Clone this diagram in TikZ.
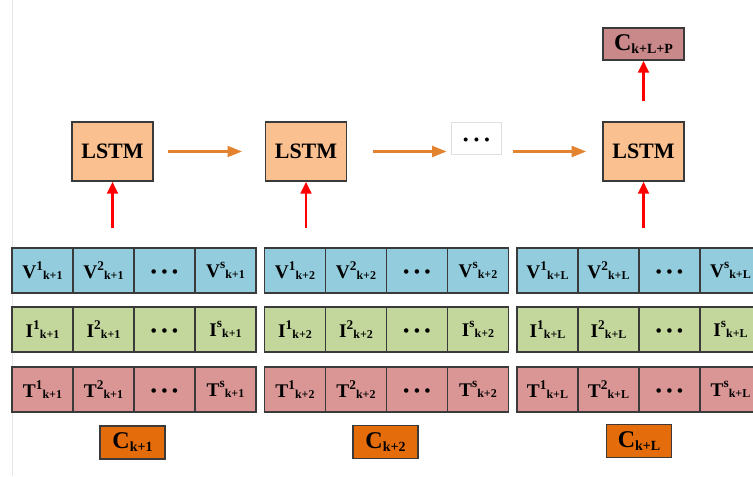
\documentclass[tikz,border=0pt]{standalone}
\usepackage{fontspec}
\setmainfont{Liberation Serif}
\usepackage{tikz}
\usetikzlibrary{arrows.meta,positioning}
\definecolor{vblue}{HTML}{93CDDD}
\definecolor{igreen}{HTML}{C3D69B}
\definecolor{tred}{HTML}{D99694}
\definecolor{lstmfill}{HTML}{FAC090}
\definecolor{cfill}{HTML}{E46C0A}
\definecolor{outfill}{HTML}{C9898A}
\definecolor{flow}{HTML}{E4832F}
\definecolor{edge}{HTML}{3A3A3A}
\newcommand{\sym}[3]{{\fontsize{14.5}{14.5}\selectfont #1}{\fontsize{10}{10}\selectfont\raisebox{6.5pt}{#2}}{\fontsize{9}{9}\selectfont\raisebox{-0.75pt}{#3}}}
\newcommand{\csym}[1]{{\fontsize{18}{18}\selectfont C}{\fontsize{10.5}{10.5}\selectfont\raisebox{-2.25pt}{#1}}}
\newcommand{\dotsym}{\vphantom{V\textsuperscript{1}}{\fontsize{12.5}{12.5}\selectfont\raisebox{-2.4pt}{\textbullet\hspace{3.6pt}\textbullet\hspace{3.6pt}\textbullet}}}
\tikzstyle{cell} = [rectangle, draw=edge, line width=1pt, minimum width=45.75pt, minimum height=33.75pt, inner sep=0pt, outer sep=0pt, font=\bfseries]
\tikzstyle{lstm} = [rectangle, draw=edge, line width=1pt, fill=lstmfill, minimum width=60.75pt, minimum height=44.25pt, inner sep=0pt, font=\bfseries\fontsize{16.5}{16.5}\selectfont]
\tikzstyle{cbox} = [rectangle, draw=edge, line width=1pt, fill=cfill, minimum width=48.75pt, minimum height=24.75pt, inner sep=0pt, font=\bfseries]
\tikzstyle{up} = [draw=red, line width=2.2pt, -{Triangle[length=9pt,width=8pt]}]
\tikzstyle{flowarrow} = [draw=flow, line width=2.2pt, -{Triangle[length=11pt,width=8pt]}]

\begin{document}
\begin{tikzpicture}[x=0.75pt, y=-0.75pt]
	\useasboundingbox (0,0) rectangle (753,476);
	\clip (0,0) rectangle (753,476);
	\draw[gray!20, line width=0.75pt] (12,0) -- (12,476);
	% input grids
	\foreach \g/\x/\s in {1/12/k+1, 2/264.5/k+2, 3/517/k+L} {
		\foreach \r/\y/\c in {V/270.5/vblue, I/329.5/igreen, T/389.5/tred} {
			\node[cell, fill=\c] (\r\g-1) at (\x+30.5,\y) {\sym{\r}{1}{\s}};
			\node[cell, fill=\c, right=0pt of \r\g-1] (\r\g-2) {\sym{\r}{2}{\s}};
			\node[cell, fill=\c, right=0pt of \r\g-2] (\r\g-3) {\dotsym};
			\node[cell, fill=\c, right=0pt of \r\g-3] (\r\g-4) {\sym{\r}{s}{\s}};
		}
	}
	\node[cbox] (c1) at (132.5,442.5) {\csym{k+1}};
	\node[cbox] (c2) at (385.5,442) {\csym{k+2}};
	\node[cbox] (c3) at (639,441) {\csym{k+L}};
	% recurrent chain
	\node[lstm] (lstm1) at (112.5,151.5) {LSTM};
	\node[lstm] (lstm2) at (306,151.5) {LSTM};
	\node[rectangle, draw=gray!25, line width=0.6pt, minimum width=38pt, minimum height=24pt, inner sep=0pt] (dotsbox) at (476.5,138) {\dotsym};
	\node[lstm] (lstm3) at (643.5,151.5) {LSTM};
	\node[cbox, fill=outfill, minimum width=60.75pt, minimum height=24pt] (cout) at (643.5,44) {\csym{k+L+P}};
	\coordinate (in1) at (112.5,228);
	\coordinate (in2) at (306,228);
	\coordinate (in3) at (643.5,228);
	\draw[up] (in1) -- (lstm1);
	\draw[up] (in2) -- (lstm2);
	\draw[up] (in3) -- (lstm3);
	\draw[up, shorten <=15pt] (lstm3) -- (cout);
	\draw[flowarrow, shorten <=10.5pt, shorten >=17pt] (lstm1) -- (lstm2);
	\draw[flowarrow, shorten <=19.5pt, shorten >=3pt] (lstm2) -- (lstm2 -| dotsbox.west);
	\draw[flowarrow, shorten <=8pt, shorten >=12pt] (dotsbox.east |- lstm3) -- (lstm3);
\end{tikzpicture}
\end{document}
